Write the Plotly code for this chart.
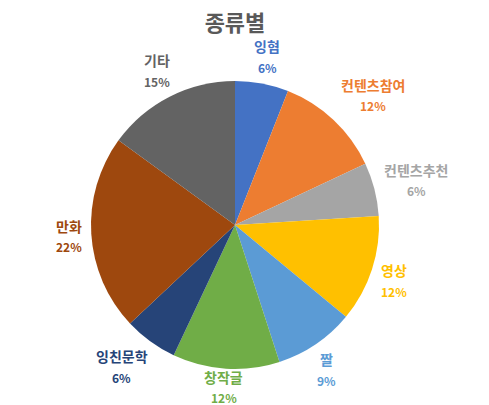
import math
import plotly.graph_objects as go

labels = ["잉혐", "컨텐츠참여", "컨텐츠추천", "영상", "짤", "창작글", "잉친문학", "만화", "기타"]
values = [6, 12, 6, 12, 9, 12, 6, 22, 15]
colors = ["#4472C4", "#ED7D31", "#A5A5A5", "#FFC000", "#5B9BD5",
          "#70AD47", "#264478", "#9E480E", "#636363"]

W, H = 489, 405
CX, CY, R = 235, 225, 144   # pie centre and radius in pixels
GAP = 9                     # distance from the rim to the label box
LINE = 21                   # distance between label line and percent line
FONT = "Noto Sans CJK KR"


def clamp(v):
    return max(-1.0, min(1.0, v))


fig = go.Figure(go.Pie(
    labels=labels,
    values=values,
    sort=False,
    direction="clockwise",
    rotation=0,
    marker=dict(colors=colors, line=dict(width=0)),
    textinfo="none",
    showlegend=False,
    domain=dict(x=[(CX - R) / W, (CX + R) / W],
                y=[1 - (CY + R) / H, 1 - (CY - R) / H]),
))

# labels outside the pie, like Excel's "best fit"
total = sum(values)
start = 0
for lab, val, col in zip(labels, values, colors):
    mid = (start + val / 2) / total * 2 * math.pi
    start += val
    s, c = math.sin(mid), math.cos(mid)
    w = len(lab) * 13.2
    h = LINE + 15
    px = CX + (R + GAP) * s + w / 2 * clamp(s * 1.5)
    py = CY - (R + GAP) * c - h / 2 * clamp(c * 1.5)
    py = min(py, H - 18)    # keep the label block inside the chart area
    pct = f"{round(val / total * 100)}%"
    for txt, dy in ((lab, -LINE / 2), (pct, LINE / 2)):
        fig.add_annotation(
            x=px / W, y=1 - (py + dy) / H, xref="paper", yref="paper",
            text=f"<b>{txt}</b>", showarrow=False,
            xanchor="center", yanchor="middle",
            font=dict(size=14 if txt == lab else 12, color=col, family=FONT),
        )

fig.update_layout(
    width=W, height=H,
    margin=dict(l=0, r=0, t=0, b=0),
    paper_bgcolor="white",
    font=dict(family=FONT),
    title=dict(text="<b>종류별</b>", x=CX / W, xanchor="center",
               y=1 - 23 / H, yanchor="middle",
               font=dict(size=22, color="#595959", family=FONT)),
)

# drop the default body margin so the figure fills the window
fig.write_html("out.html", config={"displayModeBar": False},
               post_script="document.body.style.margin='0';")
